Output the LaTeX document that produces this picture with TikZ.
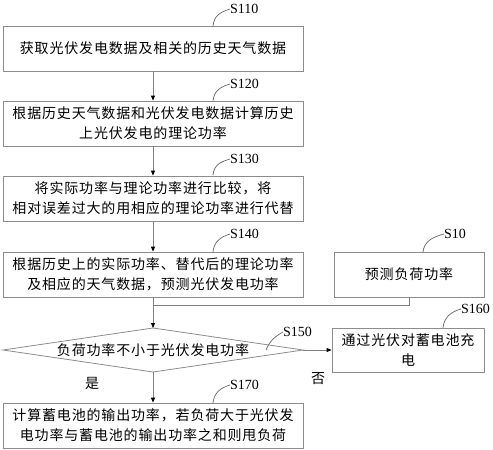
\documentclass[tikz,border=0pt]{standalone}
\usepackage{fontspec}
\setmainfont{Liberation Serif}
\newfontfamily\cjk[LetterSpace=6]{Noto Sans CJK SC}
\usetikzlibrary{arrows.meta}
\begin{document}
\begin{tikzpicture}[x=1pt,y=-1pt,
  boxnode/.style={draw=black!45,line width=0.8pt,rectangle,inner sep=0pt,
    minimum height=45pt,align=center,font=\cjk\fontsize{14pt}{20pt}\selectfont},
  lbl/.style={font=\fontsize{14pt}{16pt}\selectfont,inner sep=0pt},
  cn/.style={font=\cjk\fontsize{14pt}{16pt}\selectfont,inner sep=0pt},
  lead/.style={draw=black!60,line width=0.7pt},
  conn/.style={draw=black!50,line width=0.8pt},
  arr/.style={conn,-{Triangle[black,length=5pt,width=4pt]}}]
\useasboundingbox (0,0) rectangle (493,450);
% boxes
\node[boxnode,minimum width=300pt] (s110) at (153,48.5) {获取光伏发电数据及相关的历史天气数据};
\node[boxnode,minimum width=300pt] (s120) at (153,123.5) {根据历史天气数据和光伏发电数据计算历史\\上光伏发电的理论功率};
\node[boxnode,minimum width=300pt] (s130) at (153,198.5) {将实际功率与理论功率进行比较，将\\相对误差过大的用相应的理论功率进行代替};
\node[boxnode,minimum width=300pt] (s140) at (153,274.5) {根据历史上的实际功率、替代后的理论功率\\及相应的天气数据，预测光伏发电功率};
\node[boxnode,minimum width=150pt] (s10) at (409,274.5) {预测负荷功率};
\node[boxnode,minimum width=152pt,minimum height=44pt] (s160) at (408,350) {通过光伏对蓄电池充\\电};
\node[boxnode,minimum width=300pt] (s170) at (153,425.5) {计算蓄电池的输出功率，若负荷大于光伏发\\电功率与蓄电池的输出功率之和则甩负荷};
% diamond
\coordinate (dT) at (153,328);
\coordinate (dR) at (303,350);
\coordinate (dB) at (153,372);
\coordinate (dL) at (3,350);
\draw[draw=black!45,line width=0.8pt] (dT) -- (dR) -- (dB) -- (dL) -- cycle;
\node[cn] (d) at (153,350) {负荷功率不小于光伏发电功率};
% connectors
\draw[arr] (s110.south) -- (s120.north);
\draw[arr] (s120.south) -- (s130.north);
\draw[arr] (s130.south) -- (s140.north);
\coordinate (j) at (153,305);
\draw[arr] (s140.south) -- (dT);
\draw[conn] (s10.south) |- (j);
\draw[arr] (dR) -- (s160.west);
\draw[arr] (dB) -- (s170.north);
\node[cn] (yes) at (92,383) {是};
\node[cn] (no) at (318,379) {否};
% labels and leaders
\node[lbl,anchor=west] (l110) at (230,9) {S110};
\draw[lead] (213,26) .. controls (214,16) and (220,12) .. (l110.west);
\node[lbl,anchor=west] (l120) at (230,84) {S120};
\draw[lead] (213,101) .. controls (214,91) and (220,87) .. (l120.west);
\node[lbl,anchor=west] (l130) at (230,159) {S130};
\draw[lead] (213,175) .. controls (214,165) and (220,162) .. (l130.west);
\node[lbl,anchor=west] (l140) at (230,234) {S140};
\draw[lead] (213,252) .. controls (214,242) and (220,237) .. (l140.west);
\node[lbl,anchor=west] (l10) at (444,234) {S10};
\draw[lead] (423,252) .. controls (424,242) and (432,237) .. (l10.west);
\node[lbl,anchor=west] (l160) at (461,309) {S160};
\draw[lead] (443,328) .. controls (444,318) and (450,312) .. (l160.west);
\node[lbl,anchor=west] (l150) at (283,332) {S150};
\draw[lead] (266,350) .. controls (270,340) and (276,336) .. (l150.west);
\node[lbl,anchor=west] (l170) at (230,385) {S170};
\draw[lead] (213,403) .. controls (214,393) and (220,388) .. (l170.west);
\end{tikzpicture}
\end{document}
